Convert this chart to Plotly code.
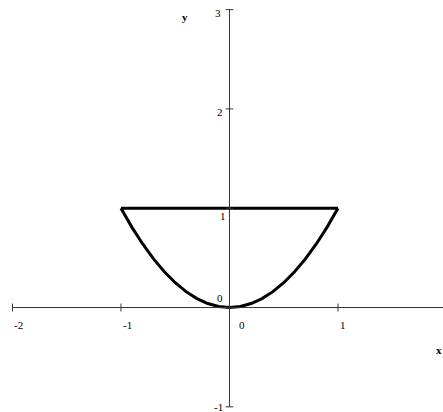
import plotly.graph_objects as go

# Region bounded by y = x^2 and y = 1
curve_x = [-1.0, -0.9, -0.8, -0.7, -0.6, -0.5, -0.4, -0.3, -0.2, -0.1, 0.0,
           0.1, 0.2, 0.3, 0.4, 0.5, 0.6, 0.7, 0.8, 0.9, 1.0]
curve_y = [1.0, 0.81, 0.64, 0.49, 0.36, 0.25, 0.16, 0.09, 0.04, 0.01, 0.0,
           0.01, 0.04, 0.09, 0.16, 0.25, 0.36, 0.49, 0.64, 0.81, 1.0]
top_x = [1.0, -1.0]
top_y = [1.0, 1.0]

x_ticks = [-2, -1, 0, 1]
x_tick_labels = ["-2", "-1", "0", "1"]
y_ticks = [-1, 0, 1, 2, 3]
y_tick_labels = ["-1", "0", "1", "2", "3"]

x_min, x_max = -2.115, 1.968
y_min, y_max = -1.052, 3.097

font = dict(family="Liberation Serif", size=11, color="#000000")
axis_color = "#333333"

fig = go.Figure()
fig.add_trace(go.Scatter(x=curve_x, y=curve_y, mode="lines",
                         line=dict(color="black", width=3), hoverinfo="skip"))
fig.add_trace(go.Scatter(x=top_x, y=top_y, mode="lines",
                         line=dict(color="black", width=3), hoverinfo="skip"))

shapes = []
# axis lines
shapes.append(dict(type="line", xref="x", yref="y", x0=-2, x1=x_max + 0.1, y0=0, y1=0,
                   line=dict(color=axis_color, width=1)))
shapes.append(dict(type="line", xref="x", yref="y", x0=0, x1=0, y0=-1, y1=3,
                   line=dict(color=axis_color, width=1)))
# tick marks
dx_tick = 0.035
dy_tick = 0.04
for t in x_ticks:
    if t == 0:
        continue
    shapes.append(dict(type="line", xref="x", yref="y", x0=t, x1=t,
                       y0=-dy_tick, y1=dy_tick, line=dict(color=axis_color, width=1)))
for t in y_ticks:
    if t == 0:
        continue
    shapes.append(dict(type="line", xref="x", yref="y", x0=-dx_tick, x1=dx_tick,
                       y0=t, y1=t, line=dict(color=axis_color, width=1)))

annotations = []
for t, lab in zip(x_ticks, x_tick_labels):
    annotations.append(dict(x=t + (0.07 if t == 0 else 0.0), y=-0.1, text=lab,
                            showarrow=False, xanchor="left", yanchor="top",
                            font=font, xref="x", yref="y"))
y_label_pos = {
    -1: (-0.04, -1.0, "right", "middle"),
    0: (-0.04, 0.02, "right", "bottom"),
    1: (-0.01, 1.0, "right", "top"),
    2: (-0.04, 1.97, "right", "middle"),
    3: (-0.06, 2.97, "right", "middle"),
}
for t, lab in zip(y_ticks, y_tick_labels):
    xx, yy, xa, ya = y_label_pos[t]
    annotations.append(dict(x=xx, y=yy, text=lab, showarrow=False,
                            xanchor=xa, yanchor=ya, font=font, xref="x", yref="y"))
annotations.append(dict(x=-0.41, y=2.93, text="<b>y</b>", showarrow=False,
                        xanchor="center", yanchor="middle", font=font,
                        xref="x", yref="y"))
annotations.append(dict(x=1.935, y=-0.43, text="<b>x</b>", showarrow=False,
                        xanchor="center", yanchor="middle", font=font,
                        xref="x", yref="y"))

fig.update_layout(
    width=443, height=412,
    margin=dict(l=0, r=0, t=0, b=0),
    paper_bgcolor="white", plot_bgcolor="white",
    showlegend=False,
    shapes=shapes,
    annotations=annotations,
    xaxis=dict(range=[x_min, x_max], visible=False, fixedrange=True),
    yaxis=dict(range=[y_min, y_max], visible=False, fixedrange=True),
)

fig.write_html("out.html", config={"displayModeBar": False})
